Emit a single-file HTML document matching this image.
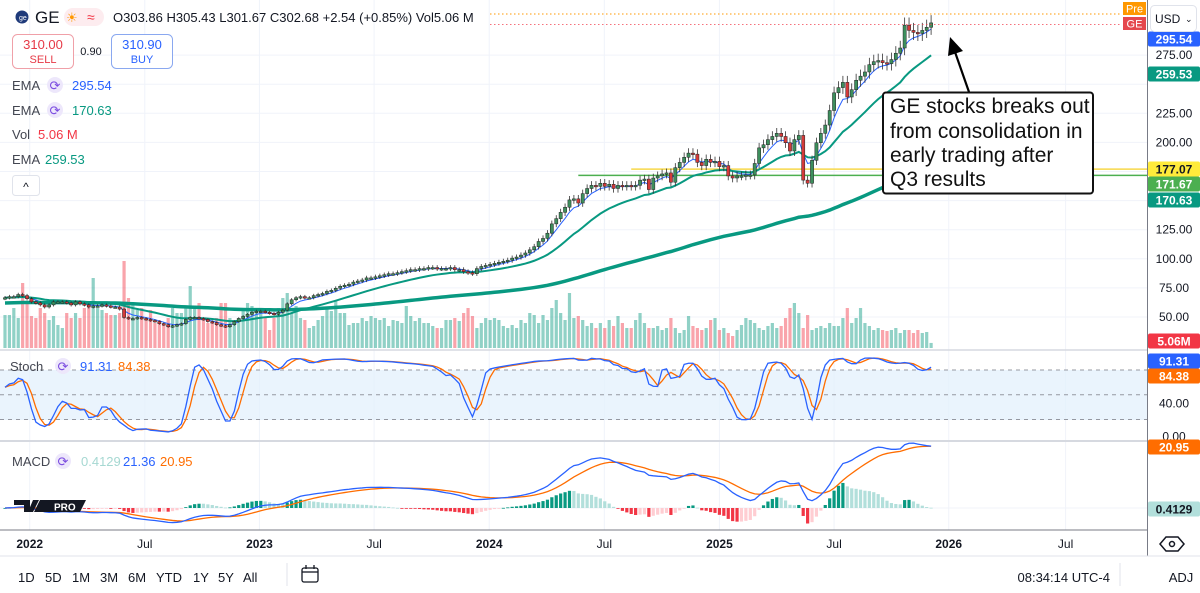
<!DOCTYPE html>
<html><head><meta charset="utf-8">
<style>
html,body{margin:0;padding:0;background:#fff;}
body{width:1200px;height:588px;overflow:hidden;font-family:"Liberation Sans",sans-serif;}
svg text{font-family:"Liberation Sans",sans-serif;}
</style></head>
<body>
<svg id="chart" width="1200" height="588" viewBox="0 0 1200 588" xmlns="http://www.w3.org/2000/svg">
  <g id="grid"></g>
  <rect x="0" y="370" width="1147" height="50" fill="#e3f0fc" opacity="0.75"/>
  <g id="vol"></g>
  <g id="levels"></g>
  <g id="emas"></g>
  <g id="candles"></g>
  <g id="stoch"></g>
  <g id="macd"></g>

  <line x1="0" y1="350" x2="1147" y2="350" stroke="#d6d9e0" stroke-width="1.5"/>
  <line x1="0" y1="441" x2="1147" y2="441" stroke="#d6d9e0" stroke-width="2"/>
  <line x1="0" y1="530" x2="1147" y2="530" stroke="#787b86" stroke-width="1"/>
  <line x1="1147.5" y1="0" x2="1147.5" y2="556" stroke="#787b86" stroke-width="1"/>
  <line x1="0" y1="556" x2="1200" y2="556" stroke="#e0e3eb" stroke-width="1"/>
  <g id="timeaxis"></g>
  <g id="priceaxis"></g>

  <line x1="490" y1="14" x2="1120" y2="14" stroke="#ff9800" stroke-dasharray="1.5,2.5"/>
  <line x1="490" y1="24.5" x2="1120" y2="24.5" stroke="#f23645" stroke-dasharray="1.5,2.5" opacity="0.7"/>
  <g>
    <circle cx="22" cy="17" r="6.5" fill="#1f3a7a"/>
    <text x="19" y="20" font-size="7" fill="#fff">ge</text>
    <text x="35" y="23" font-size="17" fill="#131722">GE</text>
    <rect x="64" y="8" width="40" height="18" rx="9" fill="#fdecef"/>
    <text x="66" y="22" font-size="13" fill="#ff9800">☀</text>
    <text x="87" y="22" font-size="14" fill="#f23645">≈</text>
    <text x="113" y="22" font-size="13" fill="#131722">O303.86 H305.43 L301.67 C302.68 +2.54 (+0.85%) Vol5.06 M</text>
  </g>
  <g>
    <rect x="12.5" y="34.5" width="61" height="34" rx="5" fill="#fff" stroke="#f0a0a8"/>
    <text x="43" y="49" font-size="13" fill="#e63946" text-anchor="middle">310.00</text>
    <text x="43" y="63" font-size="11" fill="#e63946" text-anchor="middle">SELL</text>
    <text x="91" y="55" font-size="11" fill="#131722" text-anchor="middle">0.90</text>
    <rect x="111.5" y="34.5" width="61" height="34" rx="5" fill="#fff" stroke="#8aa8f0"/>
    <text x="142" y="49" font-size="13" fill="#2962ff" text-anchor="middle">310.90</text>
    <text x="142" y="63" font-size="11" fill="#2962ff" text-anchor="middle">BUY</text>
  </g>
  <g>
    <text x="12" y="90" font-size="13" fill="#434651">EMA</text>
    <circle cx="55" cy="85" r="8" fill="#ede7fb"/>
    <text x="55" y="90" font-size="13" fill="#7b4ce0" text-anchor="middle">⟳</text>
    <text x="72" y="90" font-size="13" fill="#2962ff">295.54</text>
    <text x="12" y="115" font-size="13" fill="#434651">EMA</text>
    <circle cx="55" cy="110" r="8" fill="#ede7fb"/>
    <text x="55" y="115" font-size="13" fill="#7b4ce0" text-anchor="middle">⟳</text>
    <text x="72" y="115" font-size="13" fill="#089981">170.63</text>
    <text x="12" y="139" font-size="13" fill="#434651">Vol</text>
    <text x="38" y="139" font-size="13" fill="#f23645">5.06 M</text>
    <text x="12" y="164" font-size="13" fill="#434651">EMA</text>
    <text x="45" y="164" font-size="13" fill="#089981">259.53</text>
    <rect x="12.5" y="175.5" width="27" height="20" rx="3" fill="#fff" stroke="#e0e3eb"/>
    <text x="26" y="191" font-size="12" fill="#131722" text-anchor="middle">^</text>
  </g>
  <g>
    <text x="10" y="371" font-size="13" fill="#434651">Stoch</text>
    <circle cx="63" cy="366" r="8" fill="#ede7fb"/>
    <text x="63" y="371" font-size="13" fill="#7b4ce0" text-anchor="middle">⟳</text>
    <text x="80" y="371" font-size="13" fill="#2962ff">91.31</text>
    <text x="118" y="371" font-size="13" fill="#ff6d00">84.38</text>
  </g>
  <g>
    <text x="12" y="466" font-size="13" fill="#434651">MACD</text>
    <circle cx="63" cy="461" r="8" fill="#ede7fb"/>
    <text x="63" y="466" font-size="13" fill="#7b4ce0" text-anchor="middle">⟳</text>
    <text x="81" y="466" font-size="13" fill="#a6d8d2">0.4129</text>
    <text x="123" y="466" font-size="13" fill="#2962ff">21.36</text>
    <text x="160" y="466" font-size="13" fill="#ff6d00">20.95</text>
  </g>
  <g>
    <path d="M14 500 h16 v12 h-6 v-7 h-10 z M33 500 h6 l-6 12 h-5 z M40 500 h46 l-6 12 h-46 z" fill="#131722"/>
    <text x="54" y="510.5" font-size="10" fill="#fff" font-weight="bold">PRO</text>
  </g>

  <g>
    <line x1="969" y1="92" x2="955" y2="52" stroke="#000" stroke-width="2.2"/>
    <polygon points="950,37 948,56 963,51" fill="#000"/>
    <rect x="883" y="92.5" width="210" height="101" rx="3" fill="#fff" stroke="#111" stroke-width="2"/>
    <text font-size="21" fill="#111">
      <tspan x="890" y="113">GE stocks breaks out</tspan>
      <tspan x="890" y="138">from consolidation in</tspan>
      <tspan x="890" y="162">early trading after</tspan>
      <tspan x="890" y="186">Q3 results</tspan>
    </text>
  </g>

  <rect x="1123" y="2" width="23" height="13" fill="#ff9800"/>
  <text x="1134.5" y="12.5" font-size="11" fill="#fff" text-anchor="middle">Pre</text>
  <rect x="1123" y="17" width="23" height="13" fill="#e5484d"/>
  <text x="1134.5" y="27.5" font-size="11" fill="#fff" text-anchor="middle">GE</text>
  <rect x="1150.5" y="5.5" width="46" height="26" rx="4" fill="#fff" stroke="#e0e3eb"/>
  <text x="1155" y="23" font-size="12" fill="#131722">USD</text>
  <text x="1185" y="22" font-size="9" fill="#131722">⌄</text>

  <g>
    <polygon points="1166,537 1178,537 1184,544 1178,551 1166,551 1160,544" fill="none" stroke="#131722" stroke-width="1.5"/>
    <circle cx="1172" cy="544" r="2.5" fill="none" stroke="#131722" stroke-width="1.5"/>
  </g>
  <g id="toolbar"></g>
  <line x1="287" y1="563" x2="287" y2="586" stroke="#e0e3eb"/>
  <g>
    <rect x="302" y="568" width="16" height="14" rx="2" fill="none" stroke="#131722" stroke-width="1.3"/>
    <line x1="302" y1="572" x2="318" y2="572" stroke="#131722" stroke-width="1.3"/>
    <line x1="306" y1="565" x2="306" y2="569" stroke="#131722" stroke-width="1.3"/>
    <line x1="314" y1="565" x2="314" y2="569" stroke="#131722" stroke-width="1.3"/>
  </g>
  <text x="1110" y="582" font-size="13" fill="#131722" text-anchor="end">08:34:14 UTC-4</text>
  <line x1="1120" y1="563" x2="1120" y2="586" stroke="#e0e3eb"/>
  <text x="1181" y="582" font-size="13" fill="#131722" text-anchor="middle">ADJ</text>
</svg>
<script>
const closes = [
66.6,67.5,67.5,69.3,68.4,65.7,63,62.1,60.4,58.6,60.4,
63,63,63,62.1,60.4,63,61.3,60.4,58.6,59.5,
59.5,60.4,59.5,58.6,58.6,56.8,49.6,48.7,48.7,49.6,
48.7,47.9,47,46.1,44.3,43.4,41.6,42.5,43.4,44.3,
47.9,49.6,49.6,48.7,47.9,46.1,45.2,43.4,42.5,41.6,
43.4,46.1,48.7,50.5,52.3,54.1,55,55,54.1,53.2,
52.3,54.1,55.9,61.3,64.8,66.6,67.5,66.6,66.6,68.4,
69.3,70.2,72,72.9,74.7,76.4,77.3,78.2,80,80.9,
81.8,83.6,83.6,84.5,85.4,86.3,87.2,87.2,88.1,89,
89.8,90.7,90.7,91.6,91.6,92.5,92.5,91.6,91.6,91.6,
92.5,90.7,90.7,89,88.1,87.2,91.6,93.4,94.3,95.2,
96.1,97,97.9,98.8,100.6,101.5,103.2,105,107.7,110.4,
114.9,117.5,122,130,134.5,139.9,144.3,150.6,151.5,147.9,
156,160.4,163.1,162.2,164.9,162.2,164,160.4,163.1,162.2,
163.1,162.2,163.1,167.6,168.5,159.5,169.4,171.2,172.9,173.8,
165.8,178.3,182.8,187.2,190.8,189.9,182.8,180.1,185.5,182.8,
183.7,179.2,180.1,171.2,169.4,171.2,171.2,172,172,181.9,
195.3,198,202.4,205.1,207.8,205.1,199.7,192.6,202.4,206,
167.6,164.9,184.6,199.7,207.8,214.9,227.4,242.6,247.1,251.6,
239,245.3,253.4,256.9,260.5,266.8,269.4,270.3,268.5,267.7,
271.2,276.6,281.1,300.7,296.2,294.5,293.6,296.2,298.9,302.68];
const volumes = [
33,33,40,30,65,45,32,30,40,35,28,32,23,20,35,30,35,30,40,42,
70,40,38,35,33,33,35,87,50,45,38,40,30,38,25,28,25,30,40,35,
35,40,62,40,45,28,25,27,30,45,45,30,25,30,40,45,42,38,35,30,
18,30,40,50,55,35,42,30,28,20,22,28,32,40,37,47,35,35,23,25,
25,30,27,32,30,28,30,22,28,27,25,42,32,27,30,25,25,22,20,20,
28,28,30,27,35,40,32,20,25,30,28,30,28,22,20,23,20,28,25,35,
33,25,33,28,40,48,35,28,55,30,32,28,22,25,20,25,20,28,22,32,
25,20,20,28,35,25,20,20,22,18,20,30,20,15,18,32,22,20,18,20,
28,30,18,20,15,12,18,23,30,28,25,20,18,22,25,20,22,30,40,45,
35,20,33,18,20,22,20,25,22,22,30,40,25,30,40,25,22,18,20,18,
17,18,20,15,18,18,15,18,15,16,5.06];
const emaPeriods = [5, 20, 130];
const levelValues = [177.07, 171.67];
const priceTicks = [50,75,100,125,200,225,275];
const timeLabels = ["2022","Jul","2023","Jul","2024","Jul","2025","Jul","2026","Jul"];
const timeLabelWeeks = [5.6,31.7,57.7,83.7,109.8,135.9,162,188,214,240.5];
const rangeButtons = ["1D","5D","1M","3M","6M","YTD","1Y","5Y","All"];

const NS='http://www.w3.org/2000/svg';
const xS = i => 5 + i*4.41;
const yP = p => 317 - (p-50)*1.164;
const yV = v => 348 - v*1.0;
const yS = s => 436 - s*0.825;
const yM = m => 508 - m*2.91;
function mk(tag, attrs, parent){const e=document.createElementNS(NS,tag);for(const k in attrs)e.setAttribute(k,attrs[k]);parent.appendChild(e);return e;}
const $=id=>document.getElementById(id);

const grid=$('grid');
timeLabelWeeks.forEach(w=>{const l=mk('line',{x1:xS(w),x2:xS(w),y1:0,y2:530,stroke:'#f0f3fa'},grid);

});
[50,75,100,125,150,175,200,225,250,275].forEach(p=>{const l=mk('line',{x1:0,x2:1147,y1:yP(p),y2:yP(p),stroke:'#f0f3fa'},grid);

});
[80,50,20].forEach(s=>{const l=mk('line',{x1:0,x2:1147,y1:yS(s),y2:yS(s),stroke:'#9598a1','stroke-dasharray':'4,4'},$('stoch'));

});
{const l=mk('line',{x1:0,x2:1147,y1:yM(0),y2:yM(0),stroke:'#f0f3fa'},grid);

}

const n=closes.length;
const opens=closes.map((c,i)=>i?closes[i-1]:c*0.99);
const highs=closes.map((c,i)=>Math.max(c,opens[i])*1.022);
const lows=closes.map((c,i)=>Math.min(c,opens[i])*0.978);

closes.forEach((c,i)=>{const up=c>=opens[i];
const r=mk('rect',{x:xS(i)-1.6,y:yV(volumes[i]),width:3.2,height:348-yV(volumes[i]),fill:up?'rgba(8,153,129,0.45)':'rgba(242,54,69,0.45)'},$('vol'));

});

const levelColors=['#f7d84a','#4caf50'];const levelStart=[142,130];
levelValues.forEach((v,k)=>{const l=mk('line',{x1:xS(levelStart[k]),x2:1147,y1:yP(v),y2:yP(v),stroke:levelColors[k],'stroke-width':1.5},$('levels'));

});

function ema(arr,N,seed){const a=2/(N+1);let e=seed!==undefined?seed:arr[0];return arr.map(v=>(e=e+a*(v-e)));}
const emaStyles=[['#2962ff',1],['#089981',2],['#089981',3.5]];
emaPeriods.forEach((N,k)=>{const e=ema(closes,N,k===2?62:undefined);
const pl=mk('polyline',{points:e.map((v,i)=>xS(i)+','+yP(v)).join(' '),fill:'none',stroke:emaStyles[k][0],'stroke-width':emaStyles[k][1]},$('emas'));

});

closes.forEach((c,i)=>{const up=c>=opens[i];const col=up?'#3d8f5d':'#d43a3a';const g=$('candles');
const w=mk('line',{x1:xS(i),x2:xS(i),y1:yP(highs[i]),y2:yP(lows[i]),stroke:'#333','stroke-width':0.8},g);


const top=yP(Math.max(c,opens[i])),bot=yP(Math.min(c,opens[i]));
const b=mk('rect',{x:xS(i)-1.6,y:top,width:3.2,height:Math.max(1.5,bot-top),fill:col,stroke:'#222','stroke-width':0.5},g);

});

const raw=closes.map((c,i)=>{let hh=-1e9,ll=1e9;for(let j=Math.max(0,i-13);j<=i;j++){hh=Math.max(hh,highs[j]);ll=Math.min(ll,lows[j]);}return hh>ll?(c-ll)/(hh-ll)*100:50;});
const sma=(a,N)=>a.map((v,i)=>{let s=0,c=0;for(let j=Math.max(0,i-N+1);j<=i;j++){s+=a[j];c++;}return s/c;});
const K=sma(raw,3),D=sma(K,3);
[[D,'#ff6d00','stoch-d-line'],[K,'#2962ff','stoch-k-line']].forEach(([a,col,name])=>{
const pl=mk('polyline',{points:a.map((v,i)=>xS(i)+','+yS(v)).join(' '),fill:'none',stroke:col,'stroke-width':1.3},$('stoch'));

});

const e12=ema(closes,12),e26=ema(closes,26);
const macd=e12.map((v,i)=>v-e26[i]);const sig=ema(macd,9);const hist=macd.map((v,i)=>v-sig[i]);
hist.forEach((h,i)=>{const prev=i?hist[i-1]:0;let col;
if(h>=0)col=h>=prev?'#089981':'#b2dfdb';else col=h<prev?'#f23645':'#ffcdd2';
const y0=yM(0),y1=yM(h*1.5);
const r=mk('rect',{x:xS(i)-1.6,y:Math.min(y0,y1),width:3.2,height:Math.max(0.8,Math.abs(y1-y0)),fill:col},$('macd'));

});
[[sig,'#ff6d00','macd-signal-line'],[macd,'#2962ff','macd-line']].forEach(([a,col,name])=>{
const pl=mk('polyline',{points:a.map((v,i)=>xS(i)+','+yM(v)).join(' '),fill:'none',stroke:col,'stroke-width':1.3},$('macd'));

});

timeLabels.forEach((t,k)=>{const tx=mk('text',{x:xS(timeLabelWeeks[k]),y:548,'font-size':12,fill:'#131722','text-anchor':'middle','font-weight':/^\d/.test(t)?'bold':'normal'},$('timeaxis'));
tx.textContent=t;

});

priceTicks.forEach(p=>{const tx=mk('text',{x:1174,y:yP(p)+4,'font-size':12,fill:'#131722','text-anchor':'middle'},$('priceaxis'));
tx.textContent=p.toFixed(2);

});
const tags=[[39,'295.54','#2962ff','#fff'],[74,'259.53','#089981','#fff'],[169,'177.07','#ffeb3b','#131722'],[184,'171.67','#4caf50','#fff'],[200,'170.63','#089981','#fff'],[341,'5.06M','#f23645','#fff'],[361,'91.31','#2962ff','#fff'],[376,'84.38','#ff6d00','#fff'],[403,'40.00',null,'#131722'],[436,'0.00',null,'#131722'],[447,'20.95','#ff6d00','#fff'],[509,'0.4129','#b2dfdb','#131722']];
tags.forEach(([y,t,bg,fg])=>{if(bg){const r=mk('rect',{x:1148,y:y-7.5,width:52,height:15,rx:2,fill:bg},$('priceaxis'));

}
const tx=mk('text',{x:1174,y:y+4.5,'font-size':12,fill:fg,'text-anchor':'middle','font-weight':bg?'bold':'normal'},$('priceaxis'));
tx.textContent=t;

});

let tx0=18;const bw=[27,27,28,28,28,37,25,25,27];
rangeButtons.forEach((b,k)=>{const t=mk('text',{x:tx0,y:582,'font-size':13,fill:'#131722'},$('toolbar'));
t.textContent=b;


tx0+=bw[k];});
</script>
</body></html>
